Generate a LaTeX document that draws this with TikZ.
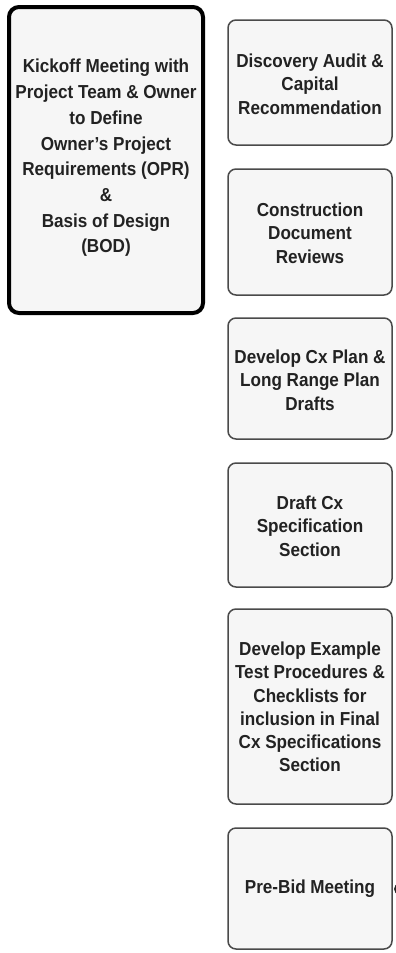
\documentclass[tikz,border=0pt]{standalone}
\usepackage{fontspec}
\setmainfont[FakeStretch=0.91]{Liberation Sans}
\definecolor{boxfill}{HTML}{F6F6F6}
\definecolor{boxline}{HTML}{4A4A4A}
\definecolor{txt}{HTML}{222222}
\begin{document}
\begin{tikzpicture}[x=1pt,y=-1pt,
  bigbox/.style={draw=black, line width=4pt, fill=boxfill, rounded corners=10pt},
  stepbox/.style={draw=boxline, line width=1.5pt, fill=boxfill, rounded corners=8pt},
  bigtxt/.style={text=txt, align=center, font=\fontsize{18.8}{25.7}\selectfont\bfseries},
  steptxt/.style={text=txt, align=center, font=\fontsize{18.8}{23.3}\selectfont\bfseries}]
\useasboundingbox (0,0) rectangle (396,953);
\clip (0,0) rectangle (396,953);
\fill[white] (0,0) rectangle (396,953);
\draw[bigbox] (9,7) rectangle (203,313);
\node[bigtxt] (kick) at (106,158) {Kickoff Meeting with\\Project Team \& Owner\\to Define\\Owner’s Project\\Requirements (OPR)\\\&\\Basis of Design\\(BOD)};
\draw[stepbox] (228,20) rectangle (392,145);
\node[steptxt] (s1) at (310,84) {Discovery Audit \&\\Capital\\Recommendation};
\draw[stepbox] (228,169) rectangle (392,295);
\node[steptxt] (s2) at (310,233) {Construction\\Document\\Reviews};
\draw[stepbox] (228,318) rectangle (392,439);
\node[steptxt] (s3) at (310,380) {Develop Cx Plan \&\\Long Range Plan\\Drafts};
\draw[stepbox] (228,463) rectangle (392,587);
\node[steptxt] (s4) at (310,526) {Draft Cx\\Specification\\Section};
\draw[stepbox] (228,609) rectangle (392,804);
\node[steptxt] (s5) at (310,707) {Develop Example\\Test Procedures \&\\Checklists for\\inclusion in Final\\Cx Specifications\\Section};
\draw[stepbox] (228,828) rectangle (392,949);
\node[steptxt] (s6) at (310,889) {Pre-Bid Meeting};
\coordinate (stub) at (399,889);
\fill[black!85] (stub) ellipse (5pt and 5.5pt);
\end{tikzpicture}
\end{document}
